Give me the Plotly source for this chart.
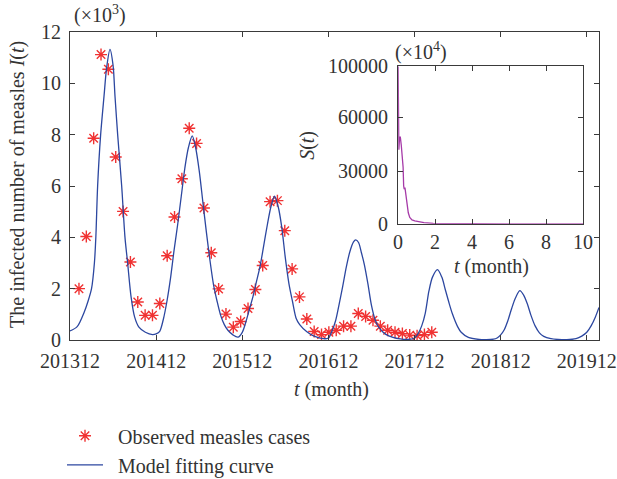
import plotly.graph_objects as go

# ---------------- data ----------------
tick_months = [0, 12, 24, 36, 48, 60, 72]
tick_labels = ["201312", "201412", "201512", "201612", "201712", "201812", "201912"]

# observed monthly measles cases (x10^3)
observed = [2.0, 4.03, 7.86, 11.12, 10.55, 7.13, 5.01, 3.04, 1.48, 0.96,
            0.96, 1.42, 3.28, 4.79, 6.28, 8.25, 7.66, 5.14, 3.4, 1.99,
            1.01, 0.5, 0.72, 1.23, 1.97, 2.9, 5.39, 5.43, 4.26, 2.77,
            1.68, 0.82, 0.33, 0.21, 0.3, 0.38, 0.54, 0.54, 1.03, 0.92,
            0.77, 0.54, 0.38, 0.3, 0.25, 0.19, 0.17, 0.21, 0.3]
obs_start = 1.25
obs_step = 1.024
obs_t = [obs_start + obs_step * i for i in range(len(observed))]

# model fitting curve
model_t = [0, 1, 2, 2.5, 3, 3.4, 3.6, 3.85, 4.27, 4.74, 5.1, 5.57, 6.0, 6.27, 6.64, 7.2, 7.66,
           8.03, 8.5, 9.0, 9.6, 10.5, 11.5, 12.0,
           12.5, 13, 13.5, 14, 14.5, 15, 15.5, 16, 16.5, 17.03, 17.5, 18, 18.5, 19, 19.5,
           20, 20.5, 21, 21.5, 22, 22.7, 23.4,
           24, 24.5, 25, 25.5, 26, 26.5, 27, 27.5, 28, 28.5, 29, 29.5, 30, 30.5, 31, 31.5,
           32, 33, 34, 35.3,
           36, 36.5, 37, 37.5, 38, 38.5, 39, 39.5, 39.8, 40.2, 40.6, 41, 41.5, 42, 42.5,
           43, 44, 45, 46, 47,
           48, 48.5, 49, 49.5, 50, 50.5, 51.2, 51.8, 52.3, 52.8, 53.3, 54, 54.5, 55.5, 57, 58,
           59, 59.5, 60, 60.5, 61, 61.5, 62, 62.67, 63.2, 63.7, 64.2, 64.8, 65.4, 66, 67, 68,
           69.2, 70.5, 71.3, 72, 72.6, 73.2, 73.7]
model_I = [0.35, 0.52, 1.1, 1.5, 2.0, 3.0, 4.0, 6.0, 8.0, 9.5, 10.6, 11.32, 10.7, 9.5, 8.0, 6.0, 4.0,
           3.0, 1.7, 0.9, 0.5, 0.3, 0.21, 0.24,
           0.34, 0.8, 1.5, 2.4, 3.5, 4.5, 5.6, 6.7, 7.5, 7.95, 7.5, 6.6, 5.4, 4.2, 3.1,
           2.15, 1.5, 0.95, 0.6, 0.38, 0.2, 0.11,
           0.3, 0.7, 1.2, 1.7, 2.3, 2.9, 3.7, 4.5, 5.2, 5.6, 5.2, 4.4, 3.2, 2.2, 1.5, 0.85,
           0.6, 0.32, 0.15, 0.05,
           0.08, 0.35, 0.75, 1.4, 2.1, 2.85, 3.45, 3.82, 3.9, 3.8, 3.4, 2.95, 2.2, 1.35, 0.8,
           0.5, 0.22, 0.1, 0.04, 0.02,
           0.08, 0.25, 0.55, 1.05, 1.9, 2.45, 2.74, 2.45, 1.95, 1.45, 1.0, 0.52, 0.3, 0.1, 0.02, 0.01,
           0.03, 0.08, 0.2, 0.4, 0.75, 1.2, 1.6, 1.92, 1.75, 1.42, 0.98, 0.55, 0.28, 0.14, 0.05, 0.02,
           0.01, 0.05, 0.15, 0.3, 0.55, 0.9, 1.27]

# inset: susceptible S(t)
s_t = [0, 0.02, 0.04, 0.08, 0.12, 0.17, 0.22, 0.27, 0.3, 0.33, 0.37, 0.4, 0.45, 0.5, 0.55,
       0.63, 0.75, 0.9, 1.1, 1.4, 1.9, 2.5, 4, 6, 8, 10]
s_val = [100000, 62000, 47000, 55000, 55000, 50000, 44000, 36000, 24000, 22000, 23000, 20000,
         16000, 11000, 7000, 4000, 2500, 1800, 1200, 700, 250, 80, 20, 10, 5, 0]
inset_tickvals = [0, 33500, 67700, 100000]
inset_ticktext = ["0", "30000", "60000", "100000"]
inset_xticks = [0, 2, 4, 6, 8, 10]

# ---------------- layout geometry ----------------
W, H = 617, 479
L, R, T, B = 70, 17.7, 31.7, 138.5
PW, PH = W - L - R, H - T - B


def px_x(x):
    return (x - L) / PW


def px_y(y):
    return (H - B - y) / PH


FONT = "Liberation Serif"
TXT = "#333333"
AX = "#3a3a3a"
RED = "#F03232"
BLUE = "#2C47A0"
MAG = "#A63AA8"

fig = go.Figure()

fig.add_trace(go.Scatter(
    x=obs_t, y=observed, mode="markers",
    name="\u00a0\u00a0Observed measles cases",
    marker=dict(symbol="asterisk-open", size=10, color=RED,
                line=dict(color=RED, width=1.4)),
    xaxis="x", yaxis="y"))

fig.add_trace(go.Scatter(
    x=model_t, y=model_I, mode="lines",
    name="\u00a0\u00a0Model fitting curve",
    line=dict(color=BLUE, width=1.3, shape="spline", smoothing=0.8),
    xaxis="x", yaxis="y"))

fig.add_trace(go.Scatter(
    x=s_t, y=s_val, mode="lines", showlegend=False,
    line=dict(color=MAG, width=1.3),
    xaxis="x2", yaxis="y2"))

axis_common = dict(showline=True, linecolor=AX, linewidth=1.2, mirror="ticks",
                   ticks="inside", ticklen=5, tickcolor=AX, showgrid=False,
                   zeroline=False, tickfont=dict(family=FONT, size=20, color=TXT))

fig.update_layout(
    width=W, height=H,
    margin=dict(l=L, r=R, t=T, b=B, autoexpand=False),
    paper_bgcolor="white", plot_bgcolor="white",
    font=dict(family=FONT, size=20, color=TXT),
    xaxis=dict(domain=[0, 1], range=[0, 73.7], tickmode="array",
               tickvals=tick_months, ticktext=tick_labels, ticklabelstandoff=3,
               **axis_common),
    yaxis=dict(domain=[0, 1], range=[0, 12], tickmode="array",
               tickvals=[0, 2, 4, 6, 8, 10, 12], ticklabelstandoff=4, **axis_common),
    xaxis2=dict(domain=[px_x(398.3), px_x(583.3)], range=[0, 10], anchor="y2",
                tickmode="array", tickvals=inset_xticks, **axis_common),
    yaxis2=dict(domain=[px_y(224), px_y(66)], range=[0, 100000], anchor="x2",
                tickmode="array", tickvals=inset_tickvals, ticktext=inset_ticktext,
                ticklabelstandoff=5, **axis_common),
    legend=dict(x=px_x(62), y=px_y(417), xanchor="left", yanchor="top",
                bgcolor="rgba(0,0,0,0)", font=dict(family=FONT, size=20, color=TXT),
                itemwidth=36, tracegroupgap=0),
    showlegend=True,
)

ann = [
    dict(text="The infected number of measles <i>I</i>(<i>t</i>)", x=px_x(18), y=px_y(185),
         textangle=-90),
    dict(text="<i>t</i> (month)", x=px_x(332), y=px_y(390)),
    dict(text="(×10<sup>3</sup>)", x=px_x(72), y=px_y(14), xanchor="left"),
    dict(text="(×10<sup>4</sup>)", x=px_x(393), y=px_y(51), xanchor="left"),
    dict(text="<i>S</i>(<i>t</i>)", x=px_x(307), y=px_y(145), textangle=-90),
    dict(text="<i>t</i> (month)", x=px_x(492), y=px_y(267)),
]
for a in ann:
    a.setdefault("xanchor", "center")
    fig.add_annotation(xref="paper", yref="paper", showarrow=False, yanchor="middle",
                       font=dict(family=FONT, size=20, color=TXT), **a)

fig.write_html("out.html", config={"displayModeBar": False},
               post_script="document.body.style.margin='0px';document.body.style.padding='0px';")
